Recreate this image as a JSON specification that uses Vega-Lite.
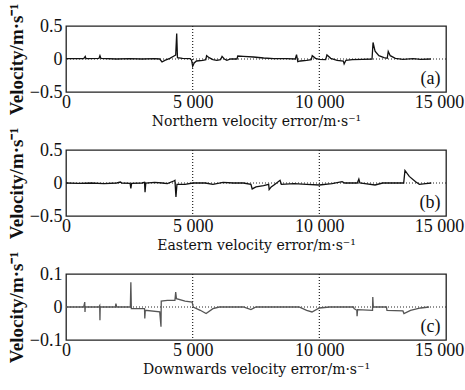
{
  "$schema": "https://vega.github.io/schema/vega-lite/v6.json",
  "padding": {"left": 6, "top": 2, "right": 2, "bottom": 2},
  "spacing": 58,
  "bounds": "flush",
  "config": {
    "view": {"stroke": "#222", "strokeWidth": 1.3},
    "axis": {"grid": false, "domain": false, "ticks": false},
    "text": {"font": "Liberation Serif"}
  },
  "datasets": {
    "a": [
      {"x":0,"y":0.005},{"x":700,"y":0.005},{"x":760,"y":0.04},{"x":790,"y":0.005},{"x":1300,"y":0.008},{"x":1340,"y":0.05},{"x":1380,"y":0.008},{"x":2000,"y":0.0},{"x":2500,"y":0.005},{"x":3000,"y":0.0},{"x":3500,"y":0.005},{"x":3700,"y":0.0},{"x":3790,"y":-0.045},{"x":3900,"y":-0.02},{"x":4100,"y":0.01},{"x":4280,"y":0.05},{"x":4330,"y":0.06},{"x":4370,"y":0.385},{"x":4400,"y":0.02},{"x":4600,"y":0.01},{"x":4900,"y":0.005},{"x":4960,"y":-0.02},{"x":5000,"y":-0.11},{"x":5060,"y":-0.06},{"x":5150,"y":-0.03},{"x":5400,"y":-0.02},{"x":5520,"y":-0.01},{"x":5550,"y":0.05},{"x":5650,"y":0.02},{"x":5800,"y":-0.01},{"x":5950,"y":-0.02},{"x":6100,"y":-0.01},{"x":6160,"y":0.04},{"x":6250,"y":0.0},{"x":6350,"y":-0.02},{"x":6500,"y":0.0},{"x":6750,"y":0.0},{"x":6780,"y":0.045},{"x":7000,"y":0.04},{"x":7400,"y":0.03},{"x":7800,"y":0.015},{"x":8200,"y":0.005},{"x":8700,"y":0.005},{"x":9050,"y":0.0},{"x":9100,"y":0.065},{"x":9150,"y":-0.04},{"x":9250,"y":-0.03},{"x":9500,"y":-0.02},{"x":9680,"y":-0.01},{"x":9720,"y":0.05},{"x":9850,"y":0.01},{"x":10000,"y":-0.005},{"x":10250,"y":-0.01},{"x":10300,"y":0.06},{"x":10450,"y":0.01},{"x":10700,"y":-0.02},{"x":10950,"y":-0.03},{"x":10980,"y":-0.075},{"x":11050,"y":-0.02},{"x":11300,"y":-0.01},{"x":11700,"y":-0.005},{"x":12080,"y":0.0},{"x":12120,"y":0.25},{"x":12200,"y":0.12},{"x":12350,"y":0.05},{"x":12550,"y":0.02},{"x":12680,"y":0.01},{"x":12720,"y":0.115},{"x":12800,"y":0.05},{"x":13000,"y":0.01},{"x":13300,"y":-0.005},{"x":13700,"y":0.005},{"x":14000,"y":-0.005},{"x":14400,"y":0.0}
    ],
    "b": [
      {"x":0,"y":0.0},{"x":500,"y":-0.005},{"x":1000,"y":0.0},{"x":1500,"y":-0.01},{"x":2000,"y":0.0},{"x":2150,"y":0.015},{"x":2200,"y":0.0},{"x":2530,"y":-0.005},{"x":2560,"y":-0.08},{"x":2590,"y":-0.005},{"x":3000,"y":0.0},{"x":3100,"y":0.01},{"x":3120,"y":-0.14},{"x":3150,"y":0.0},{"x":3500,"y":0.01},{"x":3800,"y":0.0},{"x":4000,"y":-0.01},{"x":4250,"y":0.03},{"x":4300,"y":0.04},{"x":4340,"y":-0.21},{"x":4380,"y":-0.02},{"x":4700,"y":-0.02},{"x":5000,"y":0.0},{"x":5500,"y":0.0},{"x":5800,"y":-0.02},{"x":6200,"y":0.01},{"x":6600,"y":0.0},{"x":7000,"y":0.0},{"x":7300,"y":-0.02},{"x":7350,"y":-0.09},{"x":7500,"y":-0.06},{"x":7800,"y":-0.04},{"x":8000,"y":-0.02},{"x":8020,"y":-0.1},{"x":8100,"y":-0.06},{"x":8250,"y":-0.02},{"x":8450,"y":0.04},{"x":8500,"y":-0.02},{"x":9000,"y":-0.01},{"x":9500,"y":-0.02},{"x":10000,"y":-0.03},{"x":10500,"y":-0.01},{"x":10900,"y":0.02},{"x":11000,"y":0.0},{"x":11500,"y":0.0},{"x":11560,"y":0.06},{"x":11600,"y":0.0},{"x":11800,"y":-0.01},{"x":12200,"y":-0.03},{"x":12500,"y":0.0},{"x":13000,"y":0.0},{"x":13330,"y":0.0},{"x":13380,"y":0.19},{"x":13550,"y":0.1},{"x":13800,"y":0.02},{"x":13950,"y":-0.02},{"x":14200,"y":-0.01},{"x":14420,"y":0.0}
    ],
    "c": [
      {"x":0,"y":0},{"x":700,"y":0},{"x":740,"y":0.015},{"x":750,"y":-0.015},{"x":760,"y":0},{"x":1300,"y":0},{"x":1330,"y":0.004},{"x":1340,"y":-0.04},{"x":1350,"y":0},{"x":1950,"y":0},{"x":1970,"y":0.01},{"x":2000,"y":0},{"x":2540,"y":0},{"x":2560,"y":0.075},{"x":2580,"y":-0.005},{"x":3100,"y":-0.005},{"x":3110,"y":-0.035},{"x":3130,"y":-0.01},{"x":3700,"y":-0.015},{"x":3750,"y":-0.06},{"x":3760,"y":0.018},{"x":4000,"y":0.02},{"x":4300,"y":0.02},{"x":4330,"y":0.045},{"x":4360,"y":0.025},{"x":4700,"y":0.018},{"x":4980,"y":0.015},{"x":5020,"y":0.0},{"x":5300,"y":-0.01},{"x":5530,"y":-0.02},{"x":5800,"y":-0.005},{"x":6050,"y":0},{"x":7000,"y":0},{"x":7300,"y":-0.008},{"x":7500,"y":0},{"x":9200,"y":0},{"x":9500,"y":-0.01},{"x":9710,"y":-0.015},{"x":10000,"y":-0.003},{"x":10400,"y":0},{"x":11350,"y":0},{"x":11370,"y":-0.005},{"x":11480,"y":-0.01},{"x":11490,"y":-0.028},{"x":11510,"y":-0.008},{"x":12100,"y":-0.01},{"x":12110,"y":0.03},{"x":12130,"y":0},{"x":12650,"y":0},{"x":12670,"y":-0.01},{"x":13300,"y":-0.012},{"x":13340,"y":-0.02},{"x":13600,"y":-0.01},{"x":14000,"y":-0.003},{"x":14330,"y":0}
    ]
  },
  "vconcat": [
    {
      "width": 380, "height": 66,
      "layer": [
        {"data": {"values": [{"x":5000},{"x":10000}]}, "mark": {"type":"rule","color":"#222","strokeDash":[1,2],"strokeWidth":1.2}, "encoding": {"x": {"field":"x","type":"quantitative"}}},
        {"data": {"values": [{"y":0}]}, "mark": {"type":"rule","color":"#222","strokeDash":[1,2],"strokeWidth":1}, "encoding": {"y": {"field":"y","type":"quantitative"}}},
        {"data": {"name": "a"}, "mark": {"type":"line","color":"#111","strokeWidth":1.3},
         "encoding": {
           "x": {"field":"x","type":"quantitative","scale":{"domain":[0,15000],"nice":false},"axis":{"values":[0,5000,10000,15000],"tickCount":10,"labelExpr":"datum.value == 0 ? '0' : replace(format(datum.value, ','), ',', ' ')","title":"Northern velocity error/m·s⁻¹","labelFont":"Liberation Serif","labelFontSize":18,"labelColor":"#111","labelPadding":1,"labelFlush":false,"labelOverlap":false,"labelOffset":{"condition":{"test":"datum.value == 15000","value":-7},"value":0},"titleFont":"DejaVu Serif","titleFontSize":14,"titleFontWeight":"normal","titleColor":"#111","titlePadding":3}},
           "y": {"field":"y","type":"quantitative","scale":{"domain":[-0.5,0.5],"nice":false},"axis":{"values":[-0.5,0,0.5],"tickCount":10,"labelExpr":"abs(datum.value) < 1e-9 ? '0' : format(datum.value, '.1f')","title":"Velocity/m·s⁻¹","labelFont":"Liberation Serif","labelFontSize":18,"labelColor":"#111","labelPadding":4,"labelFlush":false,"labelOverlap":false,"labelBaseline":"middle","titleFont":"Liberation Serif","titleFontSize":19,"titleFontWeight":"bold","titleColor":"#111","titlePadding":3}}
         }},
        {"data": {"values": [{"x":14780,"y":-0.3,"t":"(a)"}]}, "mark": {"type":"text","align":"right","baseline":"middle","fontSize":18,"color":"#111"},
         "encoding": {"x":{"field":"x","type":"quantitative"},"y":{"field":"y","type":"quantitative"},"text":{"field":"t"}}}
      ]
    },
    {
      "width": 380, "height": 66,
      "layer": [
        {"data": {"values": [{"x":5000},{"x":10000}]}, "mark": {"type":"rule","color":"#222","strokeDash":[1,2],"strokeWidth":1.2}, "encoding": {"x": {"field":"x","type":"quantitative"}}},
        {"data": {"values": [{"y":0}]}, "mark": {"type":"rule","color":"#222","strokeDash":[1,2],"strokeWidth":1}, "encoding": {"y": {"field":"y","type":"quantitative"}}},
        {"data": {"name": "b"}, "mark": {"type":"line","color":"#111","strokeWidth":1.3},
         "encoding": {
           "x": {"field":"x","type":"quantitative","scale":{"domain":[0,15000],"nice":false},"axis":{"values":[0,5000,10000,15000],"tickCount":10,"labelExpr":"datum.value == 0 ? '0' : replace(format(datum.value, ','), ',', ' ')","title":"Eastern velocity error/m·s⁻¹","labelFont":"Liberation Serif","labelFontSize":18,"labelColor":"#111","labelPadding":1,"labelFlush":false,"labelOverlap":false,"labelOffset":{"condition":{"test":"datum.value == 15000","value":-7},"value":0},"titleFont":"DejaVu Serif","titleFontSize":14,"titleFontWeight":"normal","titleColor":"#111","titlePadding":3}},
           "y": {"field":"y","type":"quantitative","scale":{"domain":[-0.5,0.5],"nice":false},"axis":{"values":[-0.5,0,0.5],"tickCount":10,"labelExpr":"abs(datum.value) < 1e-9 ? '0' : format(datum.value, '.1f')","title":"Velocity/m·s⁻¹","labelFont":"Liberation Serif","labelFontSize":18,"labelColor":"#111","labelPadding":4,"labelFlush":false,"labelOverlap":false,"labelBaseline":"middle","titleFont":"Liberation Serif","titleFontSize":19,"titleFontWeight":"bold","titleColor":"#111","titlePadding":3}}
         }},
        {"data": {"values": [{"x":14780,"y":-0.3,"t":"(b)"}]}, "mark": {"type":"text","align":"right","baseline":"middle","fontSize":18,"color":"#111"},
         "encoding": {"x":{"field":"x","type":"quantitative"},"y":{"field":"y","type":"quantitative"},"text":{"field":"t"}}}
      ]
    },
    {
      "width": 380, "height": 66,
      "layer": [
        {"data": {"values": [{"x":5000},{"x":10000}]}, "mark": {"type":"rule","color":"#222","strokeDash":[1,2],"strokeWidth":1.2}, "encoding": {"x": {"field":"x","type":"quantitative"}}},
        {"data": {"values": [{"y":0}]}, "mark": {"type":"rule","color":"#222","strokeDash":[1,2],"strokeWidth":1}, "encoding": {"y": {"field":"y","type":"quantitative"}}},
        {"data": {"name": "c"}, "mark": {"type":"line","color":"#555","strokeWidth":1.3},
         "encoding": {
           "x": {"field":"x","type":"quantitative","scale":{"domain":[0,15000],"nice":false},"axis":{"values":[0,5000,10000,15000],"tickCount":10,"labelExpr":"datum.value == 0 ? '0' : replace(format(datum.value, ','), ',', ' ')","title":"Downwards velocity error/m·s⁻¹","labelFont":"Liberation Serif","labelFontSize":18,"labelColor":"#111","labelPadding":1,"labelFlush":false,"labelOverlap":false,"labelOffset":{"condition":{"test":"datum.value == 15000","value":-7},"value":0},"titleFont":"DejaVu Serif","titleFontSize":14,"titleFontWeight":"normal","titleColor":"#111","titlePadding":3}},
           "y": {"field":"y","type":"quantitative","scale":{"domain":[-0.1,0.1],"nice":false},"axis":{"values":[-0.1,0,0.1],"tickCount":10,"labelExpr":"abs(datum.value) < 1e-9 ? '0' : format(datum.value, '.1f')","title":"Velocity/m·s⁻¹","labelFont":"Liberation Serif","labelFontSize":18,"labelColor":"#111","labelPadding":4,"labelFlush":false,"labelOverlap":false,"labelBaseline":"middle","titleFont":"Liberation Serif","titleFontSize":19,"titleFontWeight":"bold","titleColor":"#111","titlePadding":3}}
         }},
        {"data": {"values": [{"x":14780,"y":-0.06,"t":"(c)"}]}, "mark": {"type":"text","align":"right","baseline":"middle","fontSize":18,"color":"#111"},
         "encoding": {"x":{"field":"x","type":"quantitative"},"y":{"field":"y","type":"quantitative"},"text":{"field":"t"}}}
      ]
    }
  ]
}
